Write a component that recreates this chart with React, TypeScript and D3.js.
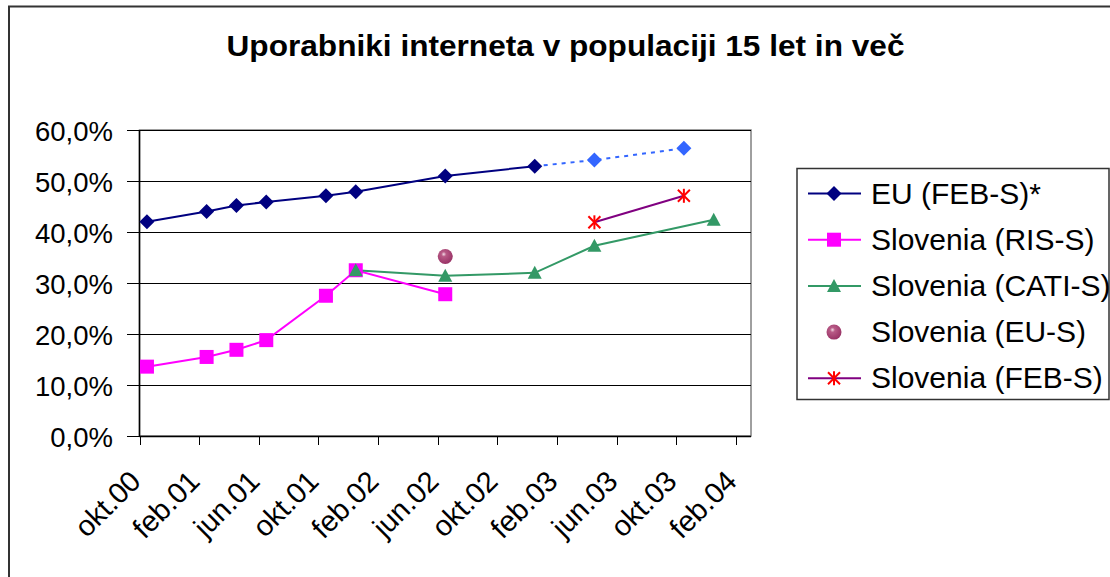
import * as d3 from "d3";

// x axis labels (every 4 months, starting okt.00)
const tickLabels = ["okt.00", "feb.01", "jun.01", "okt.01", "feb.02", "jun.02", "okt.02", "feb.03", "jun.03", "okt.03", "feb.04"];
const yTicks = [0, 10, 20, 30, 40, 50, 60];

// EU (FEB-S)*
const euDates = ["2000-10", "2001-02", "2001-04", "2001-06", "2001-10", "2001-12", "2002-06", "2002-12"];
const euValues = [42.0, 44.0, 45.2, 45.9, 47.1, 47.9, 51.0, 52.9];
// EU napoved (črtkano)
const euProjDates = ["2002-12", "2003-04", "2003-10"];
const euProjValues = [52.9, 54.1, 56.4];
// Slovenia (RIS-S)
const risDates = ["2000-10", "2001-02", "2001-04", "2001-06", "2001-10", "2001-12", "2002-06"];
const risValues = [13.6, 15.5, 16.9, 18.8, 27.5, 32.5, 27.8];
// Slovenia (CATI-S)
const catiDates = ["2001-12", "2002-06", "2002-12", "2003-04", "2003-12"];
const catiValues = [32.5, 31.4, 32.0, 37.3, 42.4];
// Slovenia (EU-S)
const euSDates = ["2002-06"];
const euSValues = [35.2];
// Slovenia (FEB-S)
const febSDates = ["2003-04", "2003-10"];
const febSValues = [41.9, 47.1];

const W = 1110;
const H = 577;
const FONT = "'Liberation Sans', Arial, sans-serif";

// meseci od okt.00
const monthIndex = (s: string) => {
  const [y, m] = s.split("-").map(Number);
  return (y - 2000) * 12 + (m - 1) - 9;
};

const x = d3.scaleLinear().domain([0, 41]).range([139.5, 751]);
const y = d3.scaleLinear().domain([0, 60]).range([436, 130]);

const px = (d: string) => x(monthIndex(d) + 0.5);

const Diamond = ({ cx, cy, color }: any) => (
  <path d={`M${cx},${cy - 7.5}L${cx + 7.5},${cy}L${cx},${cy + 7.5}L${cx - 7.5},${cy}Z`} fill={color} />
);
const Square = ({ cx, cy, color }: any) => (
  <rect x={cx - 7} y={cy - 7} width={14} height={14} fill={color} />
);
const Triangle = ({ cx, cy, color }: any) => (
  <path d={`M${cx},${cy - 7}L${cx + 7},${cy + 6}L${cx - 7},${cy + 6}Z`} fill={color} />
);
const Ball = ({ cx, cy }: any) => <circle cx={cx} cy={cy} r={7.5} fill="url(#ballGrad)" />;
const Star = ({ cx, cy, color }: any) => (
  <g stroke={color} strokeWidth={2}>
    <line x1={cx - 6} y1={cy - 6} x2={cx + 6} y2={cy + 6} />
    <line x1={cx - 6} y1={cy + 6} x2={cx + 6} y2={cy - 6} />
    <line x1={cx} y1={cy - 7} x2={cx} y2={cy + 7} />
  </g>
);

const series = [
  { name: "EU (FEB-S)*", dates: euDates, values: euValues, line: "#000080", color: "#000080", Marker: Diamond },
  { name: "Slovenia (RIS-S)", dates: risDates, values: risValues, line: "#FF00FF", color: "#FF00FF", Marker: Square },
  { name: "Slovenia (CATI-S)", dates: catiDates, values: catiValues, line: "#339966", color: "#339966", Marker: Triangle },
  { name: "Slovenia (EU-S)", dates: euSDates, values: euSValues, line: null, color: "#993366", Marker: Ball },
  { name: "Slovenia (FEB-S)", dates: febSDates, values: febSValues, line: "#800080", color: "#FF0000", Marker: Star },
];

export default function App() {
  const lineGen = d3
    .line<[number, number]>()
    .x((d) => d[0])
    .y((d) => d[1]);

  const pts = (dates: string[], values: number[]) =>
    dates.map((d, i) => [px(d), y(values[i])] as [number, number]);

  return (
    <svg
      width={W}
      height={H}
      style={{ position: "absolute", left: 0, top: 0, background: "#fff" }}
      fontFamily={FONT}
    >
      <defs>
        <radialGradient id="ballGrad" cx="0.4" cy="0.35" r="0.65">
          <stop offset="0" stopColor="#f3dbe6" />
          <stop offset="0.25" stopColor="#b85a86" />
          <stop offset="1" stopColor="#993366" />
        </radialGradient>
      </defs>
      <rect x={0} y={0} width={W} height={H} fill="#fff" />
      {/* okvir grafa */}
      <path d={`M9,${H + 5}V6.5H${W + 5}`} fill="none" stroke="#333" strokeWidth={2} />

      <text
        transform="translate(565.5,56) scale(1.09,1)"
        textAnchor="middle"
        fontSize={29}
        fontWeight="bold"
      >
        Uporabniki interneta v populaciji 15 let in več
      </text>

      {/* mreža */}
      <rect x={139.5} y={130} width={751 - 139.5} height={306} fill="none" stroke="#808080" strokeWidth={1.5} />
      {yTicks.map((t) => (
        <g key={t}>
          <line x1={127} x2={751} y1={Math.round(y(t)) + 0.5} y2={Math.round(y(t)) + 0.5} stroke="#000" strokeWidth={1} />
          <text x={113} y={y(t) + 11} textAnchor="end" fontSize={27.5}>
            {t.toFixed(1).replace(".", ",")}%
          </text>
        </g>
      ))}
      <line x1={139.5} x2={139.5} y1={130} y2={436} stroke="#000" strokeWidth={1.5} />
      <line x1={139.5} x2={751} y1={436.5} y2={436.5} stroke="#000" strokeWidth={1.5} />
      {tickLabels.map((lab, i) => {
        const tx = Math.round(x(i * 4)) + 0.5;
        return (
          <g key={lab}>
            <line x1={tx} x2={tx} y1={436} y2={445} stroke="#000" strokeWidth={1} />
            <text
              transform={`translate(${tx + 2},483) rotate(-45)`}
              textAnchor="end"
              fontSize={29}
            >
              {lab}
            </text>
          </g>
        );
      })}

      {/* serije */}
      <path
        d={lineGen(pts(euProjDates, euProjValues)) || ""}
        fill="none"
        stroke="#3366FF"
        strokeWidth={2}
        strokeDasharray="4,5"
      />
      {series.map((s) =>
        s.line ? (
          <path key={s.name} d={lineGen(pts(s.dates, s.values)) || ""} fill="none" stroke={s.line} strokeWidth={2} />
        ) : null
      )}
      {series.map((s) =>
        pts(s.dates, s.values).map(([cx, cy], i) => (
          <s.Marker key={s.name + i} cx={cx} cy={cy} color={s.color} />
        ))
      )}
      {pts(euProjDates, euProjValues)
        .slice(1)
        .map(([cx, cy], i) => (
          <Diamond key={"p" + i} cx={cx} cy={cy} color="#3366FF" />
        ))}

      {/* legenda */}
      <rect x={797} y={168.5} width={312} height={231} fill="#fff" stroke="#333" strokeWidth={1.5} />
      {series.map((s, i) => {
        const cy = 193.5 + i * 46.2;
        return (
          <g key={s.name}>
            {s.line && <line x1={808} x2={861} y1={cy} y2={cy} stroke={s.line} strokeWidth={2} />}
            <s.Marker cx={834} cy={cy} color={s.color} />
            <text x={871} y={cy + 10} fontSize={30}>
              {s.name}
            </text>
          </g>
        );
      })}
    </svg>
  );
}
